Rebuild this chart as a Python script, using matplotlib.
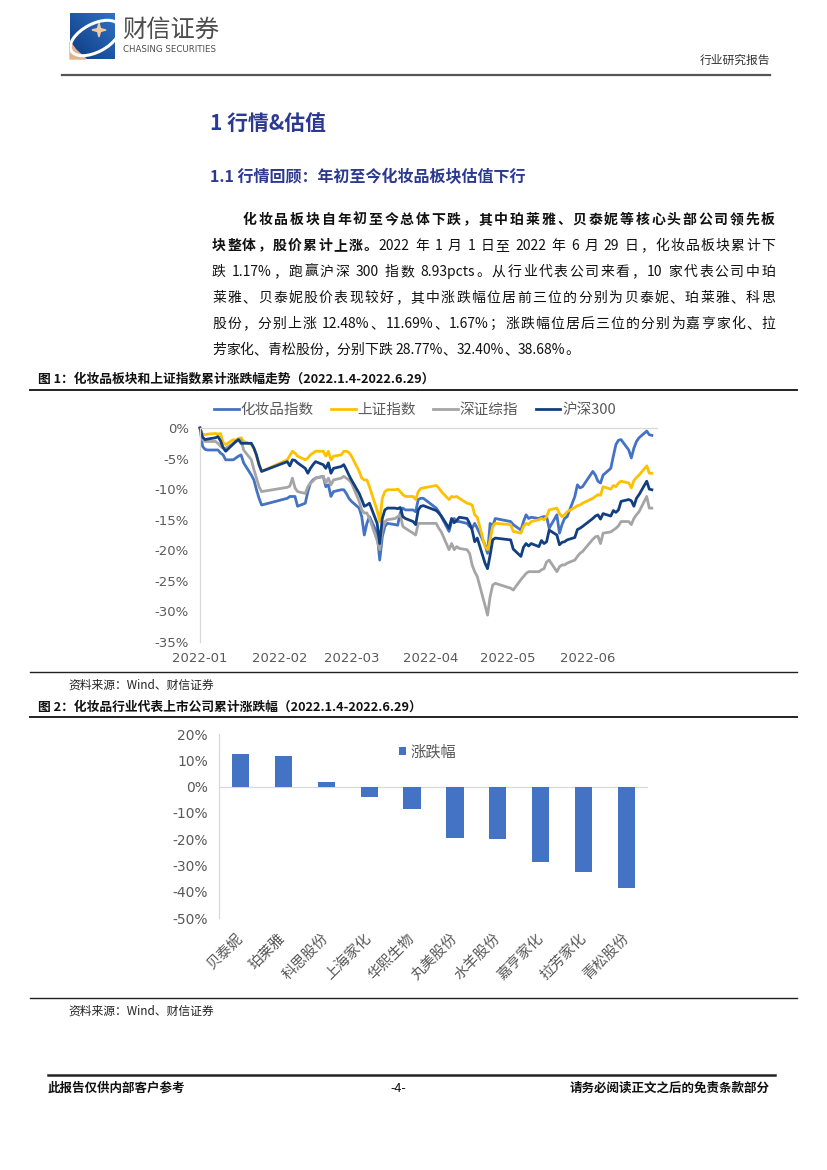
import re
import numpy as np
import pandas as pd
import matplotlib
matplotlib.use('Agg')
import matplotlib.pyplot as plt
import matplotlib.dates as mdates
from matplotlib.ticker import FuncFormatter
from matplotlib.patches import Rectangle, Polygon, Ellipse

plt.rcParams['font.family'] = ['Noto Sans CJK SC', 'DejaVu Sans']
plt.rcParams['axes.unicode_minus'] = False

W, H = 827, 1170

# ---------------- data ----------------
jan_days = [4, 5, 6, 7, 10, 11, 12, 13, 14, 17, 18, 19, 20, 21, 24, 25, 26, 27, 28]
feb_days = [7, 8, 9, 10, 11, 14, 15, 16, 17, 18, 21, 22, 23, 24, 25, 28]
mar_days = [1, 2, 3, 4, 7, 8, 9, 10, 11, 14, 15, 16, 17, 18, 21, 22, 23, 24, 25, 28, 29, 30, 31]
apr_days = [1, 6, 7, 8, 11, 12, 13, 14, 15, 18, 19, 20, 21, 22, 25, 26, 27, 28, 29]
may_days = [5, 6, 9, 10, 11, 12, 13, 16, 17, 18, 19, 20, 23, 24, 25, 26, 27, 30, 31]
jun_days = [1, 2, 6, 7, 8, 9, 10, 13, 14, 15, 16, 17, 20, 21, 22, 23, 24, 27, 28, 29]
month_days = [jan_days, feb_days, mar_days, apr_days, may_days, jun_days]

cosmetics = [0, -3.0, -3.5, -3.6, -3.6, -3.6, -4.1, -4.4, -5.2, -5.2, -4.9, -4.6, -4.4, -5.7, -7.7, -8.5, -10.1, -11.5, -12.6,
             -11.5, -11.2, -11.2, -11.2, -12.8, -12.3, -10.4, -9.0, -8.5, -8.2, -7.9, -9.6, -9.3, -11.2, -10.4, -10.1,
             -10.1, -10.7, -11.5, -12.0, -13.1, -14.5, -17.5, -15.6, -14.5, -17.2, -21.6, -17.8, -16.1, -15.6, -15.8, -15.9,
             -13.9, -13.1, -13.4, -13.4, -13.7, -11.7, -11.5,
             -11.5, -13.1, -13.7, -14.5, -16.9, -15.3, -14.8, -15.3, -15.3, -15.6, -16.1, -16.4, -15.6, -16.4, -19.1, -20.5,
             -15.6, -16.1, -14.8,
             -15.3, -15.8, -16.7, -15.3, -14.2, -14.8, -14.6, -14.8, -14.6, -14.5, -14.5, -16.4, -14.2, -17.2, -15.8, -14.8,
             -14.5, -11.2, -9.3,
             -9.8, -9.6, -7.1, -7.7, -8.7, -9.0, -7.7, -6.6, -4.6, -2.7, -2.0, -1.9, -3.6, -4.9, -3.3, -2.2, -1.6, -0.5,
             -1.1, -1.2]
shanghai = [0, -1.0, -1.1, -1.0, -0.9, -1.0, -0.9, -2.4, -2.7, -1.9, -2.0, -1.7, -1.6, -2.2, -2.7, -3.3, -4.6, -6.0, -7.1,
            -5.2, -4.5, -3.8, -4.1, -4.6, -5.2, -4.9, -4.4, -4.1, -3.8, -3.8, -4.6, -3.8, -5.2, -4.6, -4.4,
            -3.8, -3.8, -4.0, -4.6, -7.1, -8.2, -8.5, -8.5, -9.6, -13.5, -15.3, -11.5, -10.4, -10.1, -10.1, -10.0,
            -10.4, -10.9, -11.2, -11.2, -11.7, -10.4, -9.9,
            -9.8, -9.4, -9.8, -10.4, -11.7, -11.2, -11.3, -11.2, -11.5, -12.3, -12.4, -12.6, -14.2, -14.6, -19.4, -19.9,
            -18.3, -16.1, -15.6,
            -15.8, -16.9, -17.2, -16.1, -15.6, -15.8, -15.3, -15.0, -14.8, -15.0, -14.5, -13.4, -13.1, -14.0, -14.5, -14.2,
            -13.7, -13.0, -12.7,
            -12.6, -12.3, -11.5, -11.2, -10.9, -11.0, -9.6, -10.0, -9.4, -9.6, -9.0, -8.7, -9.0, -9.8, -8.6, -8.1, -7.7,
            -6.2, -7.4, -7.4]
shenzhen = [0, -1.9, -2.2, -2.2, -2.2, -2.5, -3.0, -3.3, -3.3, -2.5, -2.2, -1.9, -2.0, -3.6, -5.2, -6.8, -8.2, -9.6, -10.4,
            -9.7, -9.5, -8.2, -9.8, -10.4, -10.7, -9.6, -9.0, -8.7, -8.2, -7.9, -9.0, -8.2, -9.3, -8.5, -8.2,
            -7.9, -8.2, -8.5, -9.0, -12.0, -13.4, -13.9, -13.9, -14.8, -18.4, -19.9, -16.7, -15.3, -15.0, -14.8, -14.5,
            -14.2, -16.1, -16.4, -17.2, -17.5, -15.6, -15.6,
            -15.6, -15.6, -16.4, -17.0, -19.9, -18.9, -19.9, -19.4, -19.7, -19.9, -20.5, -22.4, -23.5, -24.3, -29.0, -30.6,
            -27.6, -25.7, -25.4,
            -26.2, -26.5, -24.8, -24.3, -23.8, -23.5, -23.5, -23.5, -23.2, -23.0, -21.9, -21.6, -23.5, -22.7, -22.4, -22.4,
            -22.1, -21.6, -21.0,
            -20.5, -20.2, -18.2, -17.8, -17.7, -18.9, -17.2, -17.0, -16.7, -16.4, -16.0, -15.3, -15.3, -15.8, -14.8,
            -14.2, -13.7, -11.2, -13.1, -13.1]
csi300 = [0, -1.5, -1.9, -1.8, -1.6, -1.4, -2.1, -3.2, -3.8, -2.6, -2.2, -1.9, -2.5, -2.5, -2.5, -3.3, -4.4, -6.0, -7.1,
          -5.5, -6.2, -5.2, -5.3, -5.7, -6.6, -7.4, -6.6, -6.0, -5.5, -6.0, -6.6, -5.7, -7.4, -6.6, -6.3,
          -6.0, -6.8, -7.7, -8.5, -10.7, -11.7, -12.8, -12.6, -12.3, -15.6, -18.9, -14.8, -13.4, -13.1, -13.1, -13.2,
          -13.0, -14.5, -14.8, -15.3, -15.8, -13.4, -12.8,
          -12.7, -13.5, -13.9, -14.4, -16.4, -14.8, -15.5, -15.1, -14.6, -14.8, -15.6, -16.7, -18.6, -18.0, -22.1, -23.0,
          -20.8, -18.3, -18.0,
          -18.3, -19.8, -21.0, -19.5, -18.9, -19.3, -18.9, -19.4, -18.4, -18.9, -18.6, -16.7, -17.5, -19.1, -18.7, -18.6,
          -18.3, -17.9, -16.6,
          -16.4, -16.1, -14.8, -14.4, -14.2, -14.9, -14.0, -14.4, -13.5, -13.8, -13.4, -12.0, -11.7, -11.9, -12.8,
          -11.5, -10.9, -8.7, -10.0, -10.1]
series_names = ['化妆品指数', '上证指数', '深证综指', '沪深300']
series_colors = ['#4472C4', '#FFC000', '#A5A5A5', '#123F7F']

companies = ['贝泰妮', '珀莱雅', '科思股份', '上海家化', '华熙生物', '丸美股份', '水羊股份', '嘉亨家化', '拉芳家化', '青松股份']
changes = [12.48, 11.69, 1.67, -3.8, -8.7, -19.4, -20.0, -28.77, -32.40, -38.68]

body = [
    ([('化妆品板块自年初至今总体下跌，其中珀莱雅、贝泰妮等核心头部公司领先板', True)], 243, 219, True),
    ([('块整体，股价累计上涨。', True), ('2022 年 1 月 1 日至 2022 年 6 月 29 日，化妆品板块累计下', False)], 212, 245, True),
    ([('跌 1.17%，跑赢沪深 300 指数 8.93pcts。从行业代表公司来看，10 家代表公司中珀', False)], 212, 271, True),
    ([('莱雅、贝泰妮股价表现较好，其中涨跌幅位居前三位的分别为贝泰妮、珀莱雅、科思', False)], 212, 297, True),
    ([('股份，分别上涨 12.48%、11.69%、1.67%；涨跌幅位居后三位的分别为嘉亨家化、拉', False)], 212, 323, True),
    ([('芳家化、青松股份，分别下跌 28.77%、32.40%、38.68%。', False)], 212, 349, False),
]

dates = pd.to_datetime([f'2022-{m:02d}-{d:02d}' for m, days in enumerate(month_days, 1) for d in days])

fig = plt.figure(figsize=(W / 100, H / 100), dpi=100)
page = fig.add_axes([0, 0, 1, 1])
page.set_xlim(0, W)
page.set_ylim(H, 0)
page.axis('off')
renderer = fig.canvas.get_renderer()


def px_axes(l, t, r, b):
    return fig.add_axes([l / W, 1 - b / H, (r - l) / W, (b - t) / H])


def text_line(segs, x0, y, x1=None, size=10):
    toks = []
    for s, bold in segs:
        for tk in re.findall(r'[0-9A-Za-z.%]+| |.', s):
            toks.append((tk, bold))
    arts, widths = [], []
    for tk, bold in toks:
        if tk == ' ':
            arts.append(None)
            widths.append(size * 0.3)
            continue
        t = page.text(x0, y + 5, tk, fontsize=size, fontweight='bold' if bold else 'normal',
                      va='baseline', ha='left', color='#111111')
        arts.append(t)
        widths.append(t.get_window_extent(renderer).width)
    gap = 0
    if x1 is not None and len(toks) > 1:
        gap = (x1 - x0 - sum(widths)) / (len(toks) - 1)
    x = x0
    for t, w in zip(arts, widths):
        if t is not None:
            t.set_x(x)
        x += w + gap


# ---------------- header / logo ----------------
grad = np.linspace(0, 1, 50)[None, :] + np.linspace(1, 0, 50)[:, None]
page.imshow(grad, extent=(70, 115, 59, 13), cmap=matplotlib.colors.LinearSegmentedColormap.from_list(
    'lg', ['#0E3A80', '#2F72C4']), aspect='auto', zorder=1)
page.add_patch(Polygon([(70, 42), (76, 50), (86, 59), (70, 59)], closed=True, color='#E2B48E', zorder=2))
arc = Ellipse((95, 38), 54, 28, angle=-28, fill=False, ec='white', lw=2.2, zorder=3)
page.add_patch(arc)
arc.set_clip_path(Rectangle((70, 13), 45, 46, transform=page.transData))
page.add_patch(Polygon([(99, 23), (100.5, 28.5), (106, 30), (100.5, 31.5), (99, 37), (97.5, 31.5), (92, 30),
                        (97.5, 28.5)], closed=True, color='#F2C9A2', zorder=4))
page.text(122, 30, '财信证券', fontsize=17.5, color='#4D4D4D', va='center', ha='left')
page.text(123, 49.5, 'CHASING SECURITIES', fontsize=6.2, color='#4D4D4D', va='center', ha='left',
          family='DejaVu Sans')
page.text(770, 60, '行业研究报告', fontsize=8.5, color='#333333', va='center', ha='right')
page.plot([62, 770], [74.5, 74.5], color='#555555', lw=1.6)

# ---------------- headings / body ----------------
page.text(210, 123, '1 行情&估值', fontsize=15, fontweight='bold', color='#2B3990', va='center')
page.text(210, 177, '1.1 行情回顾：年初至今化妆品板块估值下行', fontsize=11.5, fontweight='bold', color='#2B3990',
          va='center')
for segs, x0, y, just in body:
    text_line(segs, x0, y, 775 if just else None, size=10)

# ---------------- figure 1 ----------------
page.text(38, 379, '图 1：化妆品板块和上证指数累计涨跌幅走势（2022.1.4-2022.6.29）', fontsize=9.2,
          fontweight='bold', va='center', color='#111111')
page.plot([30, 797], [389.5, 389.5], color='#222222', lw=1.4)
page.plot([30, 797], [671.5, 671.5], color='#222222', lw=1.0)
page.text(68, 685, '资料来源：Wind、财信证券', fontsize=8.5, style='italic', va='center', color='#222222')

ax1 = px_axes(200, 428, 657, 642)
for name, vals, c in zip(series_names, [cosmetics, shanghai, shenzhen, csi300], series_colors):
    ax1.plot(dates, vals, color=c, lw=2.0, label=name, clip_on=False, solid_joinstyle='round')
ax1.set_ylim(-35, 0)
ax1.set_xlim(pd.Timestamp('2022-01-04'), pd.Timestamp('2022-07-01'))
ax1.set_yticks(np.arange(-35, 1, 5))
ax1.yaxis.set_major_formatter(FuncFormatter(lambda v, p: f'{int(round(v))}%'))
ax1.set_xticks(pd.date_range('2022-01-04', periods=6, freq=pd.DateOffset(months=1)))
ax1.xaxis.set_major_formatter(mdates.DateFormatter('%Y-%m'))
ax1.tick_params(length=0, labelsize=9.5, labelcolor='#595959')
ax1.tick_params(axis='y', pad=8)
ax1.tick_params(axis='x', pad=7)
for lab in ax1.get_xticklabels() + ax1.get_yticklabels():
    lab.set_family('DejaVu Sans')
for s in ['right', 'bottom']:
    ax1.spines[s].set_visible(False)
for s in ['top', 'left']:
    ax1.spines[s].set_color('#D9D9D9')
    ax1.spines[s].set_linewidth(0.9)
ax1.patch.set_alpha(0)
ax1.legend(loc='center', bbox_to_anchor=(415 / W, 1 - 410 / H), bbox_transform=fig.transFigure, ncol=4,
           frameon=False, fontsize=10.5, handlelength=1.7, handletextpad=0.1, columnspacing=1.2,
           labelcolor='#595959', borderaxespad=0)

# ---------------- figure 2 ----------------
page.text(38, 707, '图 2：化妆品行业代表上市公司累计涨跌幅（2022.1.4-2022.6.29）', fontsize=9.2,
          fontweight='bold', va='center', color='#111111')
page.plot([30, 797], [716.5, 716.5], color='#222222', lw=1.4)
page.plot([30, 797], [997.5, 997.5], color='#222222', lw=1.0)
page.text(68, 1011, '资料来源：Wind、财信证券', fontsize=8.5, style='italic', va='center', color='#222222')

ax2 = px_axes(219, 734, 648, 918)
x = np.arange(len(companies))
ax2.bar(x, changes, width=0.4, color='#4472C4', label='涨跌幅', zorder=2)
ax2.axhline(0, color='#D9D9D9', lw=0.9, zorder=1)
ax2.set_xlim(-0.5, len(companies) - 0.5)
ax2.set_ylim(-50, 20)
ax2.set_yticks(np.arange(-50, 21, 10))
ax2.yaxis.set_major_formatter(FuncFormatter(lambda v, p: f'{int(round(v))}%'))
ax2.set_xticks(x)
ax2.set_xticklabels(companies, rotation=45, ha='right', va='center', rotation_mode='anchor', fontsize=10.5,
                    color='#595959')
ax2.tick_params(length=0)
ax2.tick_params(axis='x', pad=13)
ax2.tick_params(axis='y', pad=8, labelsize=10, labelcolor='#595959')
for lab in ax2.get_yticklabels():
    lab.set_family('DejaVu Sans')
for s in ['right', 'bottom', 'top']:
    ax2.spines[s].set_visible(False)
ax2.spines['left'].set_color('#D9D9D9')
ax2.spines['left'].set_linewidth(0.9)
ax2.patch.set_alpha(0)
ax2.legend(loc='center', bbox_to_anchor=(428 / W, 1 - 752 / H), bbox_transform=fig.transFigure,
           frameon=False, fontsize=11, handlelength=0.45, handleheight=0.45, handletextpad=0.3,
           labelcolor='#595959', borderaxespad=0)

# ---------------- footer ----------------
page.plot([48, 775], [1074.5, 1074.5], color='#222222', lw=1.8)
page.text(48, 1088, '此报告仅供内部客户参考', fontsize=9, fontweight='bold', va='center', color='#111111')
page.text(398, 1088, '-4-', fontsize=9, va='center', ha='center', color='#111111')
page.text(770, 1088, '请务必阅读正文之后的免责条款部分', fontsize=9, fontweight='bold', va='center', ha='right',
          color='#111111')

fig.savefig('out.png', dpi=100)
